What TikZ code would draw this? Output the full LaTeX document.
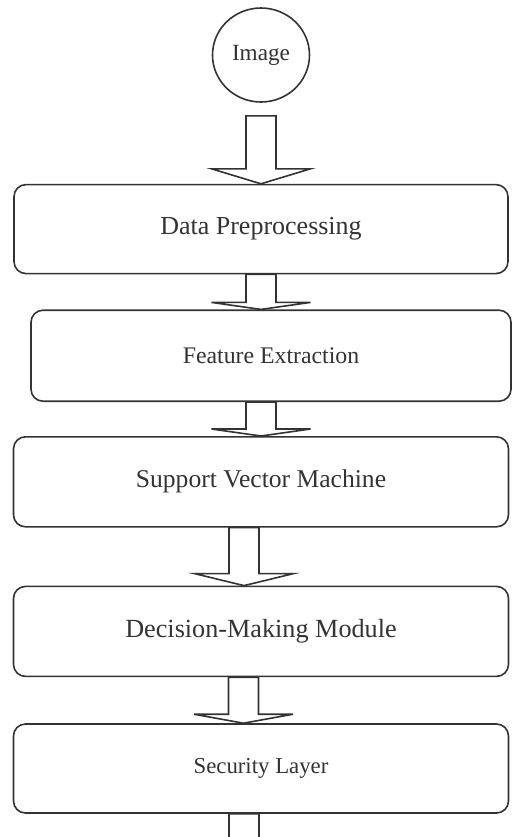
\documentclass[tikz,border=0pt]{standalone}
\usepackage{fontspec}
\setmainfont{Liberation Serif}
\usetikzlibrary{calc,positioning,shapes.geometric}
\tikzset{
  tiplen/.store in=\tiplen, tiplen=4pt,
  stagebox/.style={draw=black!80, line width=0.8pt, rectangle, rounded corners=6pt, minimum width=247.5pt, minimum height=45pt, align=center, text=black!80, font=\fontsize{12.8}{15}\selectfont},
  inputnode/.style={draw=black!80, line width=0.8pt, ellipse, minimum width=48.5pt, minimum height=47pt, inner sep=0pt, text=black!80, font=\fontsize{11.6}{14}\selectfont},
  blockarrow/.style={draw=black!80, line width=0.8pt, fill=white, line join=miter,
    to path={let \p1=(\tikztostart), \p2=(\tikztotarget) in
      (\x1-7.5pt,\y1) -- (\x1-7.5pt,\y2+\tiplen) -- (\x1-24.75pt,\y2+\tiplen) -- (\x1,\y2)
      -- (\x1+24.75pt,\y2+\tiplen) -- (\x1+7.5pt,\y2+\tiplen) -- (\x1+7.5pt,\y1) -- cycle}}
}

\begin{document}
\begin{tikzpicture}[node distance=17pt]
  \useasboundingbox (0,0) rectangle (256pt,-418.5pt);
  \node[inputnode] (img) at (130.5pt,-27.5pt) {Image};
  \node[stagebox, minimum width=247pt, minimum height=44.5pt, font=\fontsize{13}{15}\selectfont, below=40.5pt of img] (dp) {Data Preprocessing};
  \node[stagebox, minimum width=240pt, minimum height=45.5pt, font=\fontsize{11.9}{14}\selectfont, below=17.5pt of dp, xshift=5pt] (fe) {Feature Extraction};
  \node[stagebox, below=of fe, xshift=-5pt] (sv) {Support Vector Machine};
  \node[stagebox, font=\fontsize{13.1}{15}\selectfont, below=29pt of sv] (dm) {Decision-Making Module};
  \node[stagebox, minimum height=44.5pt, font=\fontsize{11.4}{14}\selectfont, below=23pt of dm] (sl) {Security Layer};
  \coordinate[below=20pt of sl] (out);
  \draw[blockarrow, tiplen=7.5pt] ([yshift=-6.5pt]img.south) to (dp.north);
  \draw[blockarrow, tiplen=3.5pt] (dp.south) to (fe.north);
  \draw[blockarrow, tiplen=3.5pt] (fe.south -| sv.north) to (sv.north);
  \draw[blockarrow, tiplen=6pt] ([xshift=-8.5pt]sv.south) to (dm.north);
  \draw[blockarrow, tiplen=4.5pt] ([xshift=-8.75pt]dm.south) to (sl.north);
  \draw[blockarrow, tiplen=6pt] ([xshift=-8.5pt]sl.south) to (out);
\end{tikzpicture}
\end{document}
